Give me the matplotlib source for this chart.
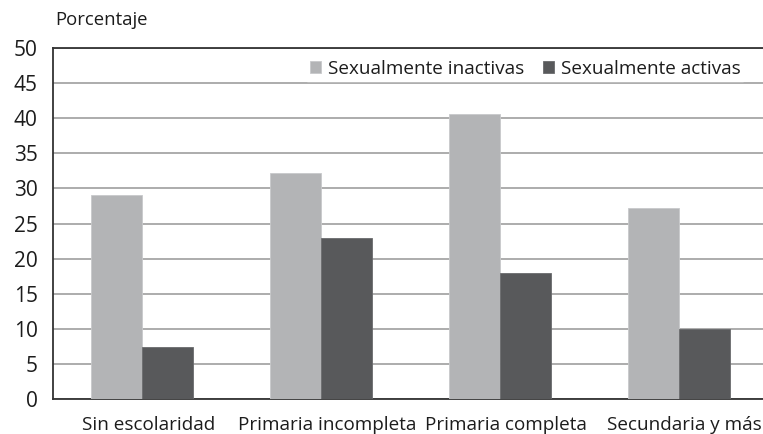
import matplotlib
matplotlib.use("Agg")
import matplotlib.pyplot as plt
import matplotlib.transforms as mtransforms
import numpy as np

categories = ["Sin escolaridad", "Primaria incompleta", "Primaria completa", "Secundaria y más"]
inactivas = [29.1, 32.2, 40.6, 27.2]
activas = [7.4, 22.9, 17.9, 10.0]
series_labels = ["Sexualmente inactivas", "Sexualmente activas"]
yticks = [0, 5, 10, 15, 20, 25, 30, 35, 40, 45, 50]

plt.rcParams['font.family'] = ['Open Sans', 'DejaVu Sans']

W, H = 763, 434
fig = plt.figure(figsize=(W / 100, H / 100), dpi=100)
left, right, top, bottom = 53, 768, 48, 399
ax = fig.add_axes([left / W, 1 - bottom / H, (right - left) / W, (bottom - top) / H])

x = np.arange(len(categories))
bw = 0.285
light = "#b3b4b6"
dark = "#58595b"
txt = "#1c1c1c"
ax.bar(x - bw / 2, inactivas, bw, color=light, edgecolor="#c8c9cb", linewidth=0.6,
       label=series_labels[0], zorder=3)
ax.bar(x + bw / 2, activas, bw, color=dark, edgecolor="#6a6b6d", linewidth=0.6,
       label=series_labels[1], zorder=3)

ax.set_xlim(-0.5, 3.5)
ax.set_ylim(0, 50)
ax.set_yticks(yticks)
ax.set_yticklabels([str(v) for v in yticks], fontsize=15, color=txt)
ax.set_xticks(x)
ax.set_xticklabels(categories, fontsize=13.6, color=txt)
ax.tick_params(axis="both", length=0)
ax.tick_params(axis="y", pad=11)
ax.tick_params(axis="x", pad=12)

# category labels sit a few pixels right of the group centres
shift = mtransforms.ScaledTranslation(6 / 100, 0, fig.dpi_scale_trans)
for lbl in ax.get_xticklabels():
    lbl.set_transform(lbl.get_transform() + shift)

ax.yaxis.grid(True, color="#a6a6a6", linewidth=1.3, zorder=0)
ax.set_axisbelow(True)
for s in ["left", "bottom", "top"]:
    ax.spines[s].set_color("#333333")
    ax.spines[s].set_linewidth(1.3)
ax.spines["right"].set_visible(False)

fig.text(55 / W, 1 - 20 / H, "Porcentaje", fontsize=13.3, color=txt, va="center", ha="left")

leg = fig.legend(loc="center", bbox_to_anchor=(525 / W, 1 - 69 / H), ncol=2, frameon=True,
                 fontsize=13.6, handlelength=0.6, handleheight=0.6, handletextpad=0.35,
                 columnspacing=1.0, borderpad=0.15, edgecolor="white", facecolor="white",
                 fancybox=False, framealpha=1)
for t in leg.get_texts():
    t.set_color(txt)

fig.savefig("out.png", dpi=100)
